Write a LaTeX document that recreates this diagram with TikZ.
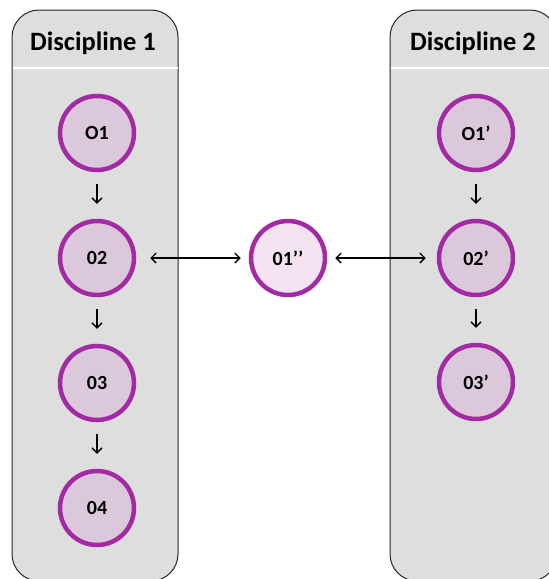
\documentclass[tikz,border=0pt]{standalone}
\usepackage{fontspec}
\setmainfont{Carlito}
\usetikzlibrary{arrows.meta}
\definecolor{panelgray}{HTML}{DEDEDE}
\definecolor{purp}{HTML}{A22BA3}
\definecolor{mauve}{HTML}{DBC8DB}
\definecolor{pale}{HTML}{F3E3F1}
\begin{document}
\begin{tikzpicture}[x=1pt,y=-1pt,
  panel/.style={draw=black!85, line width=1pt, fill=panelgray, rounded corners=27pt},
  sep/.style={draw=white, line width=1.6pt},
  header/.style={font=\bfseries\fontsize{26.5}{30}\selectfont, inner sep=0pt},
  obj/.style={circle, draw=purp, line width=4.5pt, fill=mauve, minimum size=74pt, inner sep=0pt, font=\bfseries\fontsize{20}{22}\selectfont},
  midobj/.style={obj, fill=pale},
  arr/.style={-{Straight Barb[length=5pt,width=10pt,line width=1.3pt]}, line width=1.2pt, black},
  darr/.style={{Straight Barb[length=5pt,width=10pt,line width=1.3pt]}-{Straight Barb[length=5pt,width=10pt,line width=1.3pt]}, line width=1.2pt, black}
]
\useasboundingbox (0,0) rectangle (549,579);
\begin{scope}
\clip (0,0) rectangle (549,579);
\draw[panel] (12,10) rectangle (178,581);
\draw[panel] (390,10) rectangle (557,581);
\draw[sep] (12.5,68) -- (177.5,68);
\draw[sep] (390.5,68) -- (549,68);
\end{scope}
\node[header] (h1) at (93,43) {Discipline 1};
\node[header] (h2) at (473,43) {Discipline 2};

\node[obj] (a1) at (97,133) {O1};
\node[obj] (a2) at (97,258) {02};
\node[obj] (a3) at (97,383) {03};
\node[obj] (a4) at (97,508) {04};

\node[obj] (b1) at (476,133) {O1’};
\node[obj] (b2) at (476,258) {02’};
\node[obj] (b3) at (476,382) {03’};

\node[midobj] (m) at (288,258) {01’’};

\draw[arr, shorten <=12pt, shorten >=15pt] (a1) -- (a2);
\draw[arr, shorten <=12pt, shorten >=15pt] (a2) -- (a3);
\draw[arr, shorten <=12pt, shorten >=15pt] (a3) -- (a4);
\draw[arr, shorten <=12pt, shorten >=15pt] (b1) -- (b2);
\draw[arr, shorten <=12pt, shorten >=15pt] (b2) -- (b3);
\draw[darr, shorten <=14pt, shorten >=8pt] (a2) -- (m);
\draw[darr, shorten <=8pt, shorten >=11pt] (m) -- (b2);
\end{tikzpicture}
\end{document}
